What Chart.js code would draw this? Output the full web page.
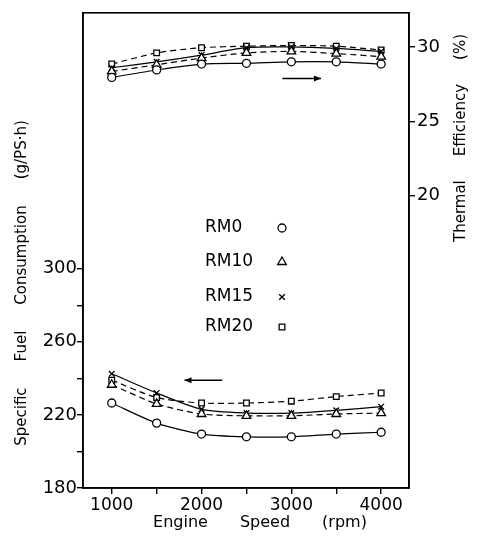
<!DOCTYPE html>
<html>
<head>
<meta charset="utf-8">
<script src="https://cdn.jsdelivr.net/npm/chart.js@4.4.1/dist/chart.umd.min.js"></script>
<style>
  html, body { margin: 0; padding: 0; background: #fff; }
  #wrap { width: 485px; height: 537px; position: relative; }
</style>
</head>
<body>
<div id="wrap"><canvas id="c" width="485" height="537"></canvas></div>
<script>
// ---- data ----
const speeds = [1000, 1500, 2000, 2500, 3000, 3500, 4000];
const seriesNames = ['RM0', 'RM10', 'RM15', 'RM20'];
const sfcRM0  = [226.5, 215.5, 209.5, 208, 208, 209.5, 210.5];
const sfcRM10 = [236.5, 226, 220.5, 219.5, 219.5, 220.5, 221];
const sfcRM15 = [242.5, 232, 223, 221, 221, 222.5, 224.5];
const sfcRM20 = [239, 229.5, 226.5, 226.5, 227.5, 230, 232];
const teRM0  = [27.95, 28.45, 28.85, 28.9, 29.0, 29.0, 28.85];
const teRM10 = [28.35, 28.8, 29.25, 29.6, 29.7, 29.55, 29.35];
const teRM15 = [28.6, 29.0, 29.45, 29.95, 30.0, 29.9, 29.7];
const teRM20 = [28.85, 29.6, 29.95, 30.05, 30.1, 30.05, 29.8];
const sfcTicks = [180, 200, 220, 240, 260, 280, 300];
const sfcLabels = [180, 220, 260, 300];
const teTicks = [20, 25, 30];
const speedTicks = [1000, 1500, 2000, 2500, 3000, 3500, 4000];
const speedLabels = [1000, 2000, 3000, 4000];

const styles = [
  { pointStyle: 'circle',   dash: [] },
  { pointStyle: 'triangle', dash: [6, 4] },
  { pointStyle: 'crossRot', dash: [] },
  { pointStyle: 'rect',     dash: [6, 4] }
];
const FONT = '"DejaVu Sans", sans-serif';

function mk(label, xs, ys, i, axis) {
  return {
    label: label,
    data: xs.map((x, k) => ({ x: x, y: ys[k] })),
    yAxisID: axis,
    borderColor: '#000',
    backgroundColor: '#fff',
    borderWidth: 1.2,
    borderDash: styles[i].dash,
    pointStyle: styles[i].pointStyle,
    pointRadius: styles[i].pointStyle === 'triangle' ? 5 : 4,
    pointBorderColor: '#000',
    pointBackgroundColor: '#fff',
    pointBorderWidth: 1.3,
    tension: 0.25,
    fill: false
  };
}

const sfcAll = [sfcRM0, sfcRM10, sfcRM15, sfcRM20];
const teAll = [teRM0, teRM10, teRM15, teRM20];
const datasets = [];
seriesNames.forEach((n, i) => datasets.push(mk(n + ' SFC', speeds, sfcAll[i], i, 'yL')));
seriesNames.forEach((n, i) => datasets.push(mk(n + ' TE', speeds, teAll[i], i, 'yR')));

const decor = {
  id: 'decor',
  afterDatasetsDraw(chart) {
    const ctx = chart.ctx, a = chart.chartArea;
    const xs = chart.scales.x, yL = chart.scales.yL, yR = chart.scales.yR;
    ctx.save();
    // frame
    ctx.strokeStyle = '#000';
    ctx.lineWidth = 1.6;
    ctx.strokeRect(a.left, a.top, a.right - a.left, a.bottom - a.top);

    // arrows
    function arrow(x1, x2, y) {
      ctx.beginPath();
      ctx.lineWidth = 1.5;
      ctx.setLineDash([]);
      ctx.moveTo(x1, y); ctx.lineTo(x2, y); ctx.stroke();
      const d = x2 > x1 ? 1 : -1;
      ctx.beginPath();
      ctx.moveTo(x2, y);
      ctx.lineTo(x2 - d * 7, y - 3);
      ctx.lineTo(x2 - d * 7, y + 3);
      ctx.closePath();
      ctx.fillStyle = '#000';
      ctx.fill();
    }
    arrow(xs.getPixelForValue(2900), xs.getPixelForValue(3330), yR.getPixelForValue(27.87));
    arrow(xs.getPixelForValue(2230), xs.getPixelForValue(1810), yL.getPixelForValue(238.9));

    // legend inside plot
    const legY = [228, 262, 297, 327];
    ctx.font = '17px ' + FONT;
    ctx.textBaseline = 'middle';
    ctx.textAlign = 'left';
    seriesNames.forEach((n, i) => {
      ctx.fillStyle = '#000';
      ctx.fillText(n, 205, legY[i]);
      ctx.save();
      ctx.fillStyle = '#fff';
      ctx.strokeStyle = '#000';
      ctx.lineWidth = 1.3;
      ctx.setLineDash([]);
      Chart.helpers.drawPoint(ctx, {
        pointStyle: styles[i].pointStyle,
        radius: styles[i].pointStyle === 'triangle' ? 5 : 4,
        rotation: 0,
        borderWidth: 1.3
      }, 282, legY[i]);
      ctx.restore();
    });

    // axis titles
    function words(list, cx, cy, gap, rotate, size) {
      ctx.save();
      ctx.translate(cx, cy);
      if (rotate) ctx.rotate(-Math.PI / 2);
      ctx.font = size + 'px ' + FONT;
      ctx.fillStyle = '#000';
      ctx.textAlign = 'left';
      ctx.textBaseline = 'middle';
      const ws = list.map(w => ctx.measureText(w).width);
      const total = ws.reduce((s, w) => s + w, 0) + gap * (list.length - 1);
      let x = -total / 2;
      list.forEach((w, k) => { ctx.fillText(w, x, 0); x += ws[k] + gap; });
      ctx.restore();
    }
    words(['Engine', 'Speed', '(rpm)'], 260, 523, 32, false, 16);
    words(['Specific', 'Fuel', 'Consumption', '(g/PS\u00B7h)'], 22, 283, 26, true, 15);
    words(['Thermal', 'Efficiency', '(%)'], 461, 138, 24, true, 15);
    ctx.restore();
  }
};

new Chart(document.getElementById('c'), {
  type: 'line',
  data: { datasets: datasets },
  plugins: [decor],
  options: {
    responsive: false,
    animation: false,
    layout: { padding: { top: 7, left: 0, right: 0, bottom: 0 } },
    plugins: { legend: { display: false }, tooltip: { enabled: false } },
    scales: {
      x: {
        type: 'linear',
        min: 680, max: 4310,
        afterBuildTicks: s => { s.ticks = speedTicks.map(v => ({ value: v })); },
        afterFit: s => { s.height = 49; },
        ticks: {
          color: '#000', font: { family: FONT, size: 17 }, padding: 1, maxRotation: 0,
          callback: v => speedLabels.includes(v) ? String(v) : ''
        },
        grid: { drawOnChartArea: false, drawTicks: true, tickLength: 6, color: '#000', lineWidth: 1.4 },
        border: { display: true, color: '#000', width: 1.6 }
      },
      yL: {
        type: 'linear', position: 'left',
        min: 180, max: 440,
        afterBuildTicks: s => { s.ticks = sfcTicks.map(v => ({ value: v })); },
        afterFit: s => { s.width = 83; },
        ticks: {
          color: '#000', font: { family: FONT, size: 18 }, padding: 0,
          callback: v => sfcLabels.includes(v) ? String(v) : ''
        },
        grid: { drawOnChartArea: false, drawTicks: true, tickLength: 6, color: '#000', lineWidth: 1.4 },
        border: { display: true, color: '#000', width: 1.6 }
      },
      yR: {
        type: 'linear', position: 'right',
        min: 0.3, max: 32.3,
        afterBuildTicks: s => { s.ticks = teTicks.map(v => ({ value: v })); },
        afterFit: s => { s.width = 76; },
        ticks: {
          color: '#000', font: { family: FONT, size: 18 }, padding: 2,
          callback: v => String(v)
        },
        grid: { drawOnChartArea: false, drawTicks: true, tickLength: 6, color: '#000', lineWidth: 1.4 },
        border: { display: true, color: '#000', width: 1.6 }
      }
    }
  }
});
</script>
</body>
</html>
